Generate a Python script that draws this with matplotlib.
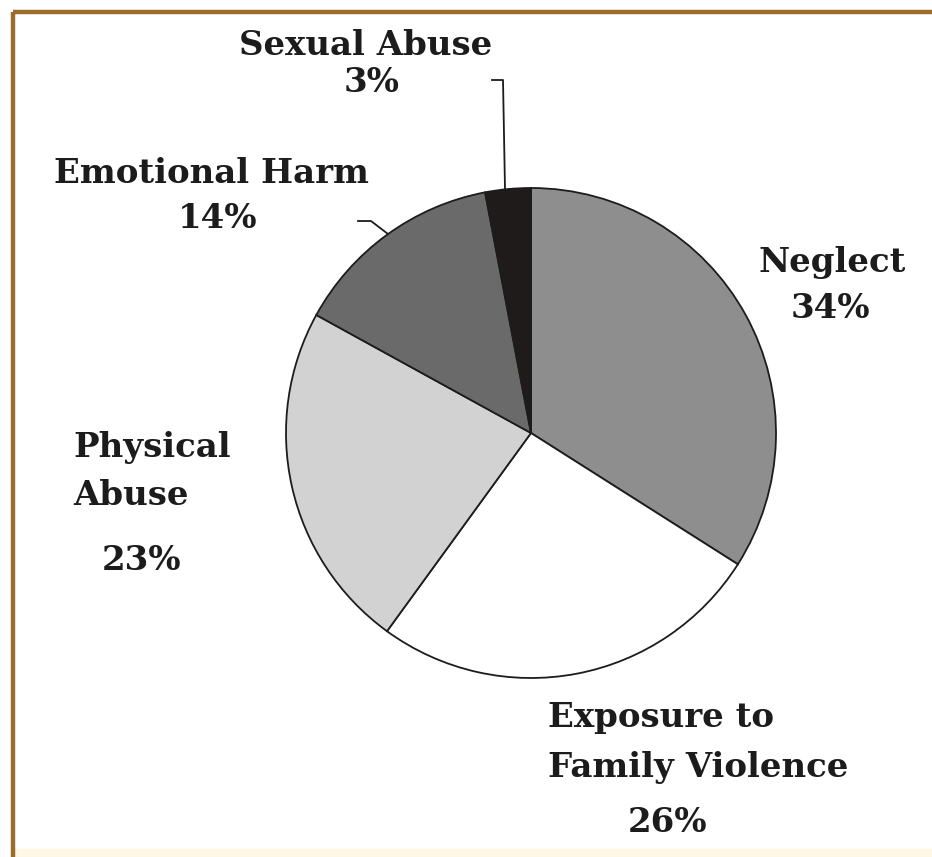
import matplotlib.pyplot as plt
from matplotlib.patches import Rectangle

# Share of cases by category
categories = ["Neglect", "Exposure to\nFamily Violence", "Physical\nAbuse", "Emotional Harm", "Sexual Abuse"]
shares = [34, 26, 23, 14, 3]
slice_colors = ["#8e8e8e", "#ffffff", "#d2d2d2", "#6a6a6a", "#1f1b1b"]

W, H = 932, 857
fig = plt.figure(figsize=(W / 100, H / 100), dpi=100)
ax = fig.add_axes([0, 0, 1, 1])

cx, cy, r = 531, H - 433, 245
wedges, _ = ax.pie(shares, colors=slice_colors, startangle=90, counterclock=False,
                   center=(cx, cy), radius=r,
                   wedgeprops=dict(edgecolor="#1c1c1c", linewidth=1.3))
ax.set_xlim(0, W)
ax.set_ylim(0, H)
ax.set_aspect("auto")
ax.axis("off")

# brown frame along the top and left, cream strip along the bottom
ax.plot([13, W], [H - 12, H - 12], color="#9a6c2a", lw=3.2, solid_capstyle="butt")
ax.plot([13, 13], [0, H - 12], color="#9a6c2a", lw=3.2, solid_capstyle="butt")
ax.add_patch(Rectangle((15, 0), W, 8, color="#fdf7e4", zorder=0))

font = dict(family="DejaVu Serif", fontweight="bold", fontsize=24.5, color="#1c1c1c")


def put(x, y, s, ha="center"):
    ax.text(x, H - y, s, ha=ha, va="center", **font)


pct = [f"{v}%" for v in shares]

# Neglect
put(832, 262, categories[0])
put(830, 308, pct[0])
# Exposure to Family Violence
put(548, 718, "Exposure to", ha="left")
put(548, 768, "Family Violence", ha="left")
put(668, 822, pct[1])
# Physical Abuse
put(73, 447, "Physical", ha="left")
put(73, 495, "Abuse", ha="left")
put(142, 560, pct[2])
# Emotional Harm
put(211, 173, categories[3])
put(218, 218, pct[3])
# Sexual Abuse
put(366, 45, categories[4])
put(372, 82, pct[4])

# leader lines
ax.plot([492, 503, 505], [H - 80, H - 80, H - 189], color="#1c1c1c", lw=1.3)
ax.plot([358, 371, 388], [H - 221, H - 221, H - 234], color="#1c1c1c", lw=1.3)

fig.savefig("out.png", dpi=100)
